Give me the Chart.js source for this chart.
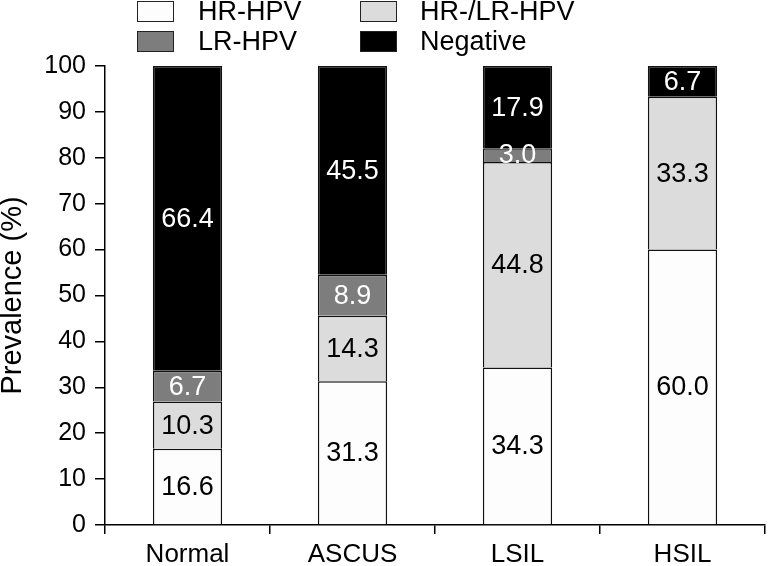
<!DOCTYPE html>
<html>
<head>
<meta charset="utf-8">
<script src="https://cdn.jsdelivr.net/npm/chart.js@4"></script>
<style>
  html, body { margin: 0; padding: 0; background: #fff; }
  #wrap { position: relative; width: 770px; height: 566px; }
  #legend { position: absolute; left: 0; top: 0; width: 770px; height: 60px;
    font-family: "Liberation Sans", Arial, sans-serif; font-size: 27px; color: #000; }
  .item { position: absolute; height: 22px; line-height: 22px; white-space: nowrap; }
  .box { position: absolute; left: 0; top: 0; width: 35px; height: 19px; border: 1.5px solid #222; }
  .txt { position: absolute; top: -1px; }
</style>
</head>
<body>
<div id="wrap">
  <canvas id="grafico" width="770" height="566"></canvas>
  <div id="legend"></div>
</div>
<script>
// dados
const categorias = ["Normal", "ASCUS", "LSIL", "HSIL"];
const hrHpv = [16.6, 31.3, 34.3, 60.0];
const hrLrHpv = [10.3, 14.3, 44.8, 33.3];
const lrHpv = [6.7, 8.9, 3.0, 0];
const negativo = [66.4, 45.5, 17.9, 6.7];
const ticksY = [0, 10, 20, 30, 40, 50, 60, 70, 80, 90, 100];

const fonte = '"Liberation Sans", Arial, sans-serif';

const series = [
  { label: "HR-HPV", data: hrHpv, cor: "#fdfdfd", texto: "#000" },
  { label: "HR-/LR-HPV", data: hrLrHpv, cor: "#dcdcdc", texto: "#000" },
  { label: "LR-HPV", data: lrHpv, cor: "#7d7d7d", texto: "#fff" },
  { label: "Negative", data: negativo, cor: "#000000", texto: "#fff" }
];

// legenda em 2 colunas (HTML)
const posLegenda = [
  { x: 137, y: 1 }, { x: 360, y: 1 },
  { x: 137, y: 31 }, { x: 360, y: 31 }
];
const legenda = document.getElementById("legend");
series.forEach((s, i) => {
  const el = document.createElement("div");
  el.className = "item";
  el.style.left = posLegenda[i].x + "px";
  el.style.top = posLegenda[i].y + "px";
  const box = document.createElement("span");
  box.className = "box";
  box.style.background = s.cor;
  const txt = document.createElement("span");
  txt.className = "txt";
  txt.style.left = (i % 2 === 0 ? 61 : 60) + "px";
  txt.textContent = s.label;
  el.appendChild(box);
  el.appendChild(txt);
  legenda.appendChild(el);
});

// rótulos dentro das barras
const rotulos = {
  id: "rotulos",
  afterDatasetsDraw(chart) {
    const ctx = chart.ctx;
    ctx.save();
    ctx.font = "27px " + fonte;
    ctx.textAlign = "center";
    ctx.textBaseline = "middle";
    chart.data.datasets.forEach((ds, i) => {
      const meta = chart.getDatasetMeta(i);
      meta.data.forEach((bar, j) => {
        const v = ds.data[j];
        if (!v) return;
        ctx.fillStyle = series[i].texto;
        ctx.fillText(v.toFixed(1), bar.x, (bar.y + bar.base) / 2 + 1);
      });
    });
    ctx.restore();
  }
};

const ctx = document.getElementById("grafico").getContext("2d");
new Chart(ctx, {
  type: "bar",
  data: {
    labels: categorias,
    datasets: series.map(s => ({
      label: s.label,
      data: s.data,
      backgroundColor: s.cor,
      borderColor: "#111",
      borderWidth: 1.5,
      barPercentage: 0.42,
      categoryPercentage: 1
    }))
  },
  options: {
    responsive: false,
    animation: false,
    layout: { padding: { top: 66, right: 5, left: 0, bottom: 0 } },
    plugins: { legend: { display: false }, tooltip: { enabled: false } },
    scales: {
      x: {
        stacked: true,
        grid: { drawOnChartArea: false, color: "#000", lineWidth: 1.5, tickLength: 9, offset: true },
        border: { color: "#000", width: 1.5 },
        ticks: { color: "#000", font: { family: fonte, size: 26 }, padding: 5 },
        afterFit(scale) { scale.height = 41; }
      },
      y: {
        stacked: true,
        min: 0,
        max: 100,
        afterBuildTicks(scale) { scale.ticks = ticksY.map(v => ({ value: v })); },
        grid: { drawOnChartArea: false, color: "#000", lineWidth: 1.5, tickLength: 10 },
        border: { color: "#000", width: 1.5 },
        ticks: { color: "#000", font: { family: fonte, size: 25 }, padding: 9 },
        title: {
          display: true,
          text: "Prevalence (%)",
          color: "#000",
          font: { family: fonte, size: 29, lineHeight: 0.9 },
          padding: { top: 0, bottom: 0 }
        },
        afterFit(scale) { scale.width = 105; }
      }
    }
  },
  plugins: [rotulos]
});
</script>
</body>
</html>
